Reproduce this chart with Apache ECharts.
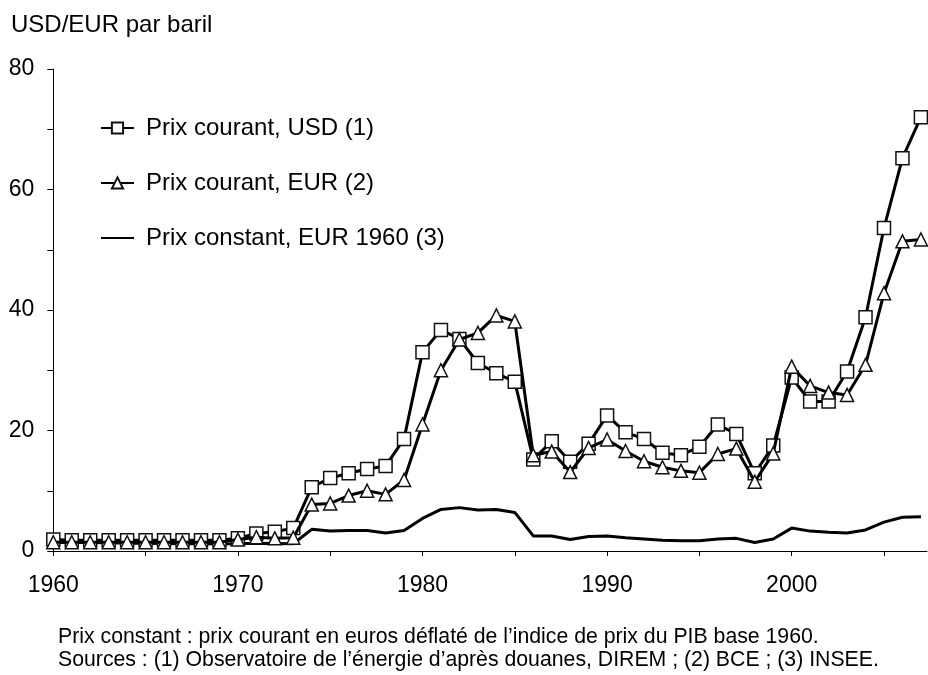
<!DOCTYPE html>
<html><head><meta charset="utf-8">
<script src="https://cdn.jsdelivr.net/npm/echarts@6/dist/echarts.min.js"></script>
<style>html,body{margin:0;padding:0;background:#fff}#c{width:928px;height:675px}</style>
</head><body><div id="c"></div>
<script>
const years = [];
for (let y = 1960; y <= 2007; y++) years.push(y);
const usd = [1.9,1.8,1.8,1.8,1.8,1.8,1.8,1.8,1.8,1.8,
  2.1,2.9,3.2,3.8,10.6,12.1,12.9,13.6,14.1,18.6,
  33.0,36.7,35.2,31.2,29.5,28.1,15.2,18.2,14.8,17.8,
  22.5,19.7,18.6,16.3,15.9,17.3,21.0,19.4,12.9,17.5,
  28.8,24.8,24.8,29.8,38.8,53.6,65.2,72.0];
const eur = [1.45,1.45,1.45,1.45,1.45,1.45,1.45,1.45,1.45,1.45,
  1.9,2.3,2.1,2.2,7.7,7.9,9.2,10.0,9.4,11.8,
  21.0,30.0,35.1,36.2,39.1,38.1,15.9,16.5,13.1,17.1,
  18.5,16.6,14.9,13.9,13.3,13.0,16.1,17.0,11.5,16.2,
  30.6,27.4,26.3,25.9,30.9,42.8,51.4,51.7];
const constant = [1.45,1.4,1.4,1.35,1.3,1.3,1.25,1.2,1.2,1.15,
  1.2,1.3,1.25,1.2,3.6,3.3,3.4,3.4,3.0,3.4,
  5.4,6.9,7.2,6.8,6.9,6.4,2.5,2.5,1.9,2.4,
  2.5,2.2,2.0,1.8,1.7,1.7,2.0,2.1,1.4,2.0,
  3.8,3.3,3.1,3.0,3.5,4.8,5.6,5.7];
const seriesNames = ['Prix courant, USD (1)', 'Prix courant, EUR (2)', 'Prix constant, EUR 1960 (3)'];
const xTicks = [1960,1965,1970,1975,1980,1985,1990,1995,2000,2005];
const xLabels = [1960,1970,1980,1990,2000];
const yLabels = [0,20,40,60,80];
const yTitle = 'USD/EUR par baril';
const notes = ['Prix constant : prix courant en euros déflaté de l’indice de prix du PIB base 1960.',
  'Sources : (1) Observatoire de l’énergie d’après douanes, DIREM ; (2) BCE ; (3) INSEE.'];

const font = 'Arial, "Liberation Sans", Helvetica, sans-serif';
const pair = arr => years.map((y, i) => [y, arr[i]]);
const chart = echarts.init(document.getElementById('c'), null, {renderer: 'canvas'});
const sym = {color: '#fff', borderColor: '#111', borderWidth: 1.5};
chart.setOption({
  animation: false,
  textStyle: {fontFamily: font, color: '#000'},
  grid: {left: 53.3, right: 1, top: 69, bottom: 124, containLabel: false},
  xAxis: {
    type: 'value', min: 1960, max: 2007.33,
    splitLine: {show: false},
    axisLine: {lineStyle: {color: '#000', width: 1}},
    axisTick: {show: true, length: 5, customValues: xTicks, lineStyle: {color: '#000'}},
    axisLabel: {customValues: xLabels, margin: 23, fontSize: 23, color: '#000', fontFamily: font,
      formatter: v => String(v)}
  },
  yAxis: {
    type: 'value', min: 0, max: 80, interval: 10,
    splitLine: {show: false},
    axisLine: {show: true, lineStyle: {color: '#000', width: 1}},
    axisTick: {show: true, length: 6, lineStyle: {color: '#000'}},
    axisLabel: {customValues: yLabels, margin: 19, fontSize: 23, color: '#000', fontFamily: font}
  },
  legend: {
    orient: 'vertical', left: 100, top: 116, padding: 0,
    itemWidth: 33, itemHeight: 14, itemGap: 31,
    data: [
      {name: seriesNames[0]},
      {name: seriesNames[1]},
      {name: seriesNames[2], itemStyle: {opacity: 0}}
    ],
    textStyle: {fontSize: 24, lineHeight: 24, color: '#000', fontFamily: font, padding: [0,0,0,7]}
  },
  graphic: [
    {type: 'text', left: 11, top: 13, style: {text: yTitle, font: '24px ' + font, fill: '#000'}},
    {type: 'text', left: 58, top: 627, style: {text: notes[0], font: '21.25px ' + font, fill: '#000'}},
    {type: 'text', left: 58, top: 650, style: {text: notes[1], font: '21.25px ' + font, fill: '#000'}}
  ],
  series: [
    {name: seriesNames[0], type: 'line', data: pair(usd), symbol: 'rect', symbolSize: 13,
      lineStyle: {color: '#000', width: 3}, itemStyle: sym, z: 3},
    {name: seriesNames[1], type: 'line', data: pair(eur), symbol: 'triangle', symbolSize: 13,
      lineStyle: {color: '#000', width: 3}, itemStyle: sym, z: 4},
    {name: seriesNames[2], type: 'line', data: pair(constant), symbol: 'none',
      lineStyle: {color: '#000', width: 3}, itemStyle: {color: '#000'}, z: 2}
  ]
});
</script></body></html>
